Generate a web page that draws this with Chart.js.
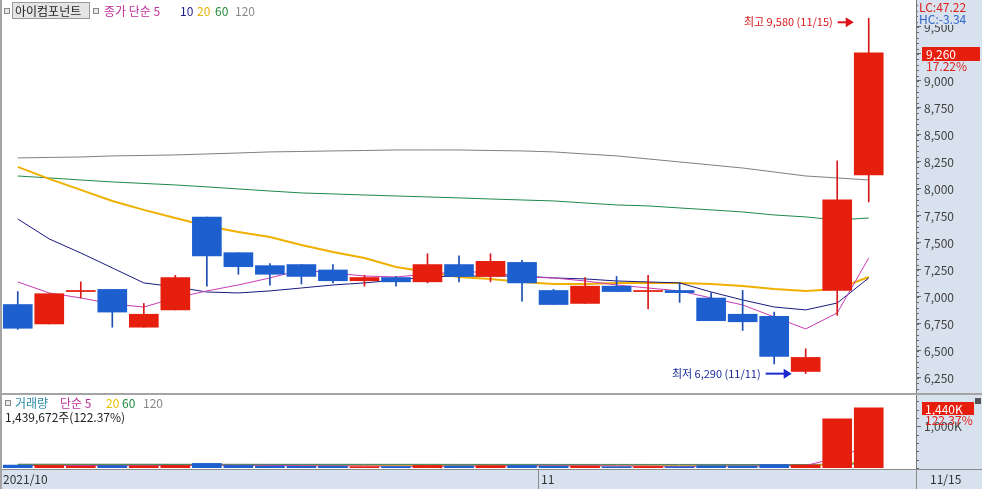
<!DOCTYPE html>
<html>
<head>
<meta charset="utf-8">
<script src="https://cdn.jsdelivr.net/npm/chart.js@4.4.0/dist/chart.umd.min.js"></script>
<style>
  body { margin: 0; background: #fff; width: 982px; height: 489px; overflow: hidden; position: relative; }
  #priceChart { position: absolute; left: 0; top: 0; }
  #volumeChart { position: absolute; left: 0; top: 395px; }
</style>
</head>
<body>
<canvas id="priceChart" width="982" height="395"></canvas>
<canvas id="volumeChart" width="982" height="94"></canvas>
<script>
const dates = ['2021/10/06', '2021/10/07', '2021/10/08', '2021/10/12', '2021/10/13', '2021/10/14', '2021/10/15',
    '2021/10/18', '2021/10/19', '2021/10/20', '2021/10/21', '2021/10/22', '2021/10/25', '2021/10/26',
    '2021/10/27', '2021/10/28', '2021/10/29', '2021/11/01', '2021/11/02', '2021/11/03', '2021/11/04',
    '2021/11/05', '2021/11/08', '2021/11/09', '2021/11/10', '2021/11/11', '2021/11/12', '2021/11/15'];
const opens  = [6930, 6750, 7050, 7070, 6720, 6880, 7740, 7410, 7290, 7300, 7250, 7150, 7180, 7140,
    7300, 7190, 7320, 7060, 6940, 7100, 7050, 7060, 6990, 6840, 6820, 6310, 7060, 8130];
const highs  = [7050, 7030, 7140, 7070, 6940, 7200, 7740, 7410, 7310, 7300, 7300, 7200, 7190, 7400,
    7380, 7400, 7340, 7070, 7180, 7190, 7200, 7130, 7040, 7060, 6860, 6520, 8260, 9580];
const lows   = [6700, 6750, 6990, 6720, 6720, 6880, 7100, 7210, 7110, 7120, 7130, 7100, 7100, 7130,
    7140, 7140, 6960, 6930, 6940, 7050, 6890, 6950, 6780, 6690, 6380, 6290, 6830, 7880];
const closes = [6710, 7030, 7060, 6860, 6840, 7180, 7380, 7280, 7210, 7190, 7150, 7180, 7140, 7300,
    7190, 7330, 7130, 6930, 7100, 7050, 7060, 7040, 6780, 6770, 6450, 6440, 7900, 9260];

// moving averages
const ma5   = [7139, 7037, 6991, 6935, 6907, 6991, 7056, 7111, 7176, 7250, 7222, 7194, 7185, 7213,
    7231, 7231, 7185, 7176, 7148, 7111, 7083, 7056, 6991, 6926, 6815, 6704, 6852, 7361];
const ma10  = [7722, 7537, 7407, 7269, 7130, 7093, 7046, 7037, 7056, 7083, 7111, 7130, 7157, 7185,
    7194, 7194, 7194, 7176, 7167, 7148, 7139, 7130, 7046, 6972, 6907, 6880, 6944, 7176];
const ma20  = [8204, 8093, 7991, 7889, 7806, 7731, 7657, 7602, 7556, 7481, 7417, 7361, 7278, 7231,
    7185, 7167, 7139, 7120, 7120, 7130, 7130, 7130, 7120, 7102, 7074, 7056, 7074, 7185];
const ma60  = [8120, 8102, 8083, 8065, 8051, 8037, 8019, 8000, 7981, 7963, 7954, 7944, 7935, 7926,
    7917, 7907, 7898, 7889, 7870, 7852, 7843, 7824, 7806, 7787, 7759, 7741, 7713, 7731];
const ma120 = [8287, 8292, 8296, 8306, 8310, 8315, 8324, 8333, 8343, 8347, 8352, 8356, 8361, 8361,
    8361, 8356, 8352, 8343, 8324, 8306, 8278, 8250, 8222, 8194, 8157, 8120, 8102, 8083];

const volumes  = [70000, 60000, 45000, 55000, 50000, 60000, 110000, 60000, 45000, 40000, 45000, 30000, 35000, 60000,
    50000, 55000, 60000, 45000, 45000, 30000, 35000, 30000, 55000, 50000, 80000, 70000, 1176482, 1439672];
const volMa5   = [60000, 62000, 60000, 58000, 56000, 58000, 66000, 64000, 62000, 55000, 52000, 48000, 42000, 40000,
    44000, 46000, 52000, 52000, 52000, 48000, 44000, 40000, 42000, 44000, 52000, 56000, 250000, 530000];
const volMa20  = [65000, 64000, 63000, 62000, 61000, 60000, 62000, 61000, 60000, 59000, 58000, 57000, 56000, 56000,
    55000, 55000, 55000, 54000, 53000, 52000, 51000, 50000, 50000, 50000, 51000, 52000, 100000, 170000];
const volMa60  = [80000, 80000, 79000, 79000, 78000, 78000, 78000, 77000, 77000, 76000, 76000, 75000, 75000, 74000,
    74000, 73000, 73000, 72000, 72000, 71000, 71000, 70000, 70000, 70000, 70000, 70000, 88000, 110000];
const volMa120 = [92000, 92000, 91000, 91000, 91000, 90000, 90000, 90000, 89000, 89000, 89000, 88000, 88000, 88000,
    87000, 87000, 87000, 86000, 86000, 86000, 85000, 85000, 85000, 84000, 84000, 84000, 93000, 105000];

const priceTicks = [6250, 6500, 6750, 7000, 7250, 7500, 7750, 8000, 8250, 8500, 8750, 9000, 9250, 9500];
const volumeTicks = [1000000];

const RED = '#e61e0e';
const BLUE = '#1e5fd0';
const AXIS_BG = '#d8e2ee';
const FONT = "'Noto Sans CJK KR', 'Noto Sans', sans-serif";
Chart.defaults.font.family = FONT;
Chart.defaults.font.size = 12;

const candleColors = opens.map((o, i) => closes[i] >= o ? RED : BLUE);
const wickColors = opens.map((o, i) => closes[i] >= o ? '#d8181a' : '#1c4fae');

function text(ctx, str, x, y, color, align) {
    ctx.fillStyle = color;
    ctx.textAlign = align || 'left';
    ctx.textBaseline = 'middle';
    ctx.fillText(str, x, y);
}

function arrow(ctx, x1, x2, y, color) {
    ctx.strokeStyle = color;
    ctx.fillStyle = color;
    ctx.lineWidth = 2;
    ctx.beginPath();
    ctx.moveTo(x1, y);
    ctx.lineTo(x2 - 6, y);
    ctx.stroke();
    ctx.beginPath();
    ctx.moveTo(x2, y);
    ctx.lineTo(x2 - 8, y - 5);
    ctx.lineTo(x2 - 8, y + 5);
    ctx.closePath();
    ctx.fill();
}

function square(ctx, x, y) {
    ctx.fillStyle = '#e8e8e8';
    ctx.fillRect(x, y, 6, 6);
    ctx.strokeStyle = '#8a8a8a';
    ctx.lineWidth = 1;
    ctx.strokeRect(x + 0.5, y + 0.5, 5, 5);
}

function minorTicks(ctx, scale, x, step) {
    ctx.strokeStyle = '#6a6a6a';
    ctx.lineWidth = 1;
    ctx.beginPath();
    for (let v = Math.ceil(scale.min / step) * step; v <= scale.max; v += step) {
        const y = Math.round(scale.getPixelForValue(v)) + 0.5;
        ctx.moveTo(x, y);
        ctx.lineTo(x + 3, y);
    }
    ctx.stroke();
}

// no extra room for the end tick labels: the plot fills the panel
function fitAxis(s) {
    s.width = 66;
    s.paddingTop = 0;
    s.paddingBottom = 0;
}

// white plot, blue-grey axis column
const panelBg = {
    id: 'panelBg',
    beforeDraw(chart) {
        const { ctx, chartArea: a, width, height } = chart;
        ctx.save();
        ctx.fillStyle = '#fff';
        ctx.fillRect(0, 0, width, height);
        ctx.fillStyle = AXIS_BG;
        ctx.fillRect(a.right, 0, width - a.right, height);
        ctx.restore();
    }
};

const priceOverlay = {
    id: 'priceOverlay',
    afterDraw(chart) {
        const { ctx, chartArea: a, scales } = chart;
        const x = scales.x, y = scales.y;
        const last = closes.length - 1;
        ctx.save();
        ctx.font = '12px ' + FONT;

        minorTicks(ctx, y, a.right, 50);
        ctx.fillStyle = '#7a7a7a';
        ctx.fillRect(a.right, 0, 1, chart.height);

        // LC / HC
        ctx.fillStyle = AXIS_BG;
        ctx.fillRect(a.right + 2, 0, 64, 25);
        text(ctx, 'LC:47.22', a.right + 3, 7, '#e0201a');
        text(ctx, 'HC:-3.34', a.right + 3, 19, '#2f66c8');

        // last close box
        const yc = Math.round(y.getPixelForValue(closes[last]));
        ctx.fillStyle = RED;
        ctx.fillRect(a.right + 6, yc - 6, 58, 14);
        text(ctx, '9,260', a.right + 10, yc + 1, '#fff');
        text(ctx, '17.22%', a.right + 10, yc + 13, '#e0201a');

        // highest / lowest marks
        ctx.font = '11px ' + FONT;
        const xh = x.getPixelForValue(last);
        const yh = y.getPixelForValue(highs[last]);
        text(ctx, '최고 9,580 (11/15)', xh - 36, yh + 4, '#d8181a', 'right');
        arrow(ctx, xh - 31, xh - 15, yh + 4, '#e0101a');
        const il = 25;
        const xl = x.getPixelForValue(il);
        const yl = y.getPixelForValue(lows[il]);
        text(ctx, '최저 6,290 (11/11)', xl - 45, yl, '#1a2a9a', 'right');
        arrow(ctx, xl - 40, xl - 14, yl, '#1a2ad0');

        // legend
        ctx.font = '12px ' + FONT;
        square(ctx, 4, 8);
        ctx.fillStyle = '#e4e4e4';
        ctx.fillRect(12, 2, 78, 17);
        ctx.strokeStyle = '#9a9a9a';
        ctx.strokeRect(12.5, 2.5, 77, 16);
        text(ctx, '아이컴포넌트', 15, 11, '#222');
        square(ctx, 93, 8);
        text(ctx, '종가 단순 5', 104, 11, '#c0309a');
        text(ctx, '10', 180, 11, '#1c1c8a');
        text(ctx, '20', 197, 11, '#e8b000');
        text(ctx, '60', 215, 11, '#1e8a3c');
        text(ctx, '120', 235, 11, '#8a8a8a');

        // frame
        ctx.fillStyle = '#a4a4a4';
        ctx.fillRect(0, 0, 2, chart.height);
        ctx.fillRect(0, chart.height - 2, chart.width, 2);
        ctx.restore();
    }
};

const volumeOverlay = {
    id: 'volumeOverlay',
    afterDraw(chart) {
        const { ctx, chartArea: a, scales } = chart;
        const x = scales.x, y = scales.y;
        const last = volumes.length - 1;
        ctx.save();
        ctx.font = '12px ' + FONT;

        minorTicks(ctx, y, a.right, 200000);
        ctx.fillStyle = '#7a7a7a';
        ctx.fillRect(a.right, 0, 1, chart.height);

        const yv = Math.round(y.getPixelForValue(volumes[last]));
        ctx.fillStyle = RED;
        ctx.fillRect(a.right + 6, yv - 6, 52, 13);
        text(ctx, '1,440K', a.right + 9, yv + 1, '#fff');
        ctx.fillStyle = '#555';
        ctx.fillRect(a.right + 59, 3, 6, 6);
        text(ctx, '122.37%', a.right + 9, yv + 12, '#e0201a');

        // date strip
        const top = a.bottom + 2;
        ctx.fillStyle = AXIS_BG;
        ctx.fillRect(0, top, chart.width, chart.height - top);
        ctx.fillStyle = '#8a8a8a';
        ctx.fillRect(0, top - 1, chart.width, 1);
        ctx.fillRect(a.right, top, 1, chart.height - top);
        const nov = dates.findIndex(d => d.startsWith('2021/11'));
        const xn = Math.round(x.getPixelForValue(nov - 0.5));
        ctx.fillRect(xn, top, 1, chart.height - top);
        text(ctx, '2021/10', 3, top + 9, '#333');
        text(ctx, '11', xn + 3, top + 9, '#333');
        text(ctx, '11/15', a.right + 14, top + 9, '#333');

        // legend
        square(ctx, 5, 5);
        text(ctx, '거래량', 15, 8, '#2a8aa6');
        text(ctx, '단순 5', 60, 8, '#c0309a');
        text(ctx, '20', 106, 8, '#e8c000');
        text(ctx, '60', 122, 8, '#1e8a3c');
        text(ctx, '120', 143, 8, '#8a8a8a');
        text(ctx, '1,439,672주(122.37%)', 5, 22, '#222');

        ctx.fillStyle = '#a4a4a4';
        ctx.fillRect(0, 0, 2, chart.height);
        ctx.restore();
    }
};

function line(values, color, width, order) {
    return {
        type: 'line',
        data: values.map((v, i) => ({ x: i, y: v })),
        borderColor: color,
        borderWidth: width,
        pointRadius: 0,
        tension: 0,
        order: order
    };
}

const xAxis = { type: 'linear', min: -0.5, max: 28.5, offset: false, display: false };

new Chart(document.getElementById('priceChart'), {
    type: 'bar',
    data: {
        datasets: [
            {
                data: opens.map((o, i) => ({ x: i, y: [o, closes[i]] })),
                backgroundColor: candleColors,
                barThickness: 29,
                grouped: false,
                borderWidth: 0,
                order: 0
            },
            {
                data: lows.map((l, i) => ({ x: i, y: [l, highs[i]] })),
                backgroundColor: wickColors,
                barThickness: 1,
                grouped: false,
                borderWidth: 0,
                order: 1
            },
            line(ma5, '#c83cb4', 1, 2),
            line(ma10, '#1a1a80', 1, 3),
            line(ma20, '#f0b000', 2, 4),
            line(ma60, '#1e8a4a', 1, 5),
            line(ma120, '#808080', 1, 6)
        ]
    },
    options: {
        responsive: false,
        animation: false,
        layout: { padding: { left: 2, top: 2, bottom: 3, right: 0 } },
        plugins: { legend: { display: false }, tooltip: { enabled: false } },
        scales: {
            x: xAxis,
            y: {
                position: 'right',
                min: 6120,
                max: 9731,
                afterBuildTicks: s => { s.ticks = priceTicks.map(v => ({ value: v })); },
                afterFit: fitAxis,
                grid: { drawOnChartArea: false, tickLength: 5, color: '#6a6a6a' },
                border: { display: false },
                ticks: { padding: 3, color: '#404040', callback: v => v.toLocaleString('en-US') }
            }
        }
    },
    plugins: [panelBg, priceOverlay]
});

new Chart(document.getElementById('volumeChart'), {
    type: 'bar',
    data: {
        datasets: [
            {
                data: volumes.map((v, i) => ({ x: i, y: v })),
                backgroundColor: candleColors,
                barThickness: 29,
                grouped: false,
                borderWidth: 0,
                order: 0
            },
            line(volMa5, '#c83cb4', 1, 1),
            line(volMa20, '#f0b000', 1, 2),
            line(volMa60, '#1e8a4a', 1, 3),
            line(volMa120, '#808080', 1, 4)
        ]
    },
    options: {
        responsive: false,
        animation: false,
        layout: { padding: { left: 2, top: 2, bottom: 21, right: 0 } },
        plugins: { legend: { display: false }, tooltip: { enabled: false } },
        scales: {
            x: xAxis,
            y: {
                position: 'right',
                min: 0,
                max: 1700000,
                afterBuildTicks: s => { s.ticks = volumeTicks.map(v => ({ value: v })); },
                afterFit: fitAxis,
                grid: { drawOnChartArea: false, tickLength: 5, color: '#6a6a6a' },
                border: { display: false },
                ticks: { padding: 3, color: '#404040', callback: v => (v / 1000).toLocaleString('en-US') + 'K' }
            }
        }
    },
    plugins: [panelBg, volumeOverlay]
});
</script>
</body>
</html>
